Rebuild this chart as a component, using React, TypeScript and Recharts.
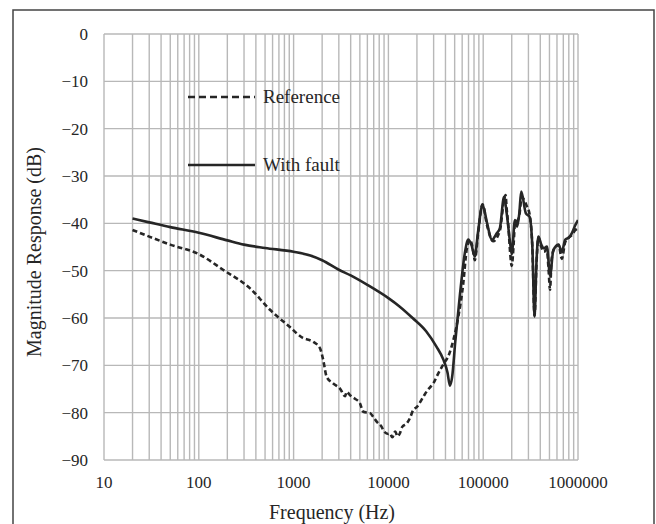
import React from "react";
import { LineChart, Line, XAxis, YAxis, CartesianGrid, Customized } from "recharts";

// frequency axis (log), decade labels + minor grid lines
const decades = [10, 100, 1000, 10000, 100000, 1000000];
const freqTicks = [
  10, 20, 30, 40, 50, 60, 70, 80, 90,
  100, 200, 300, 400, 500, 600, 700, 800, 900,
  1000, 2000, 3000, 4000, 5000, 6000, 7000, 8000, 9000,
  10000, 20000, 30000, 40000, 50000, 60000, 70000, 80000, 90000,
  100000, 200000, 300000, 400000, 500000, 600000, 700000, 800000, 900000,
  1000000,
];
const dbTicks = [-90, -80, -70, -60, -50, -40, -30, -20, -10, 0];

// "With fault" (solid)
const faultFreq = [
  20, 30, 50, 100, 200, 300, 500, 1000, 1500, 2000, 3000, 4000, 6000, 10000,
  13000, 18000, 25000, 32000, 38000, 42000, 44600, 47000, 50800, 56500, 64000,
  69600, 75000, 81600, 88000, 98400, 110000, 123000, 139000, 150000, 166000,
  177000, 192000, 200000, 216000, 228000, 240000, 252000, 282000, 308000,
  330000, 348000, 365000, 382000, 410000, 437000, 470000, 507000, 550000,
  624000, 675000, 732000, 800000, 860000, 930000, 1000000,
];
const faultDb = [
  -39.0, -39.8, -40.8, -42.0, -43.6, -44.5, -45.2, -46.0, -46.8, -47.8, -49.8,
  -51.0, -53.0, -55.8, -57.5, -60.0, -62.8, -66.0, -68.8, -71.5, -74.3, -72.5,
  -64.9, -55.6, -46.3, -43.4, -44.5, -47.0, -42.0, -36.1, -40.0, -43.5, -42.1,
  -41.0, -34.4, -37.9, -44.0, -46.5, -39.3, -40.7, -38.0, -33.3, -37.9, -38.6,
  -45.0, -59.7, -48.0, -42.8, -44.5, -45.3, -44.9, -51.0, -45.6, -44.6, -46.0,
  -43.5, -43.0, -42.1, -40.5, -39.3,
];

// "Reference" (dashed)
const refFreq = [
  20, 30, 50, 100, 180, 350, 560, 900, 1250, 1600, 1900, 2050, 2230, 2600,
  3080, 3500, 3630, 3940, 4400, 5000, 5430, 6400, 6930, 7600, 8490, 9000,
  10000, 10400, 11000, 11800, 12500, 13200, 14000, 15600, 17000, 18300, 20000,
  23400, 26000, 29800, 33000, 37900, 43000, 48400, 54600, 61600, 66900, 72600,
  78000, 81600, 88000, 98400, 110000, 127000, 150000, 166000, 172000, 177000,
  185000, 192000, 200000, 210000, 216000, 228000, 240000, 255000, 270000,
  290000, 308000, 330000, 348000, 365000, 382000, 410000, 437000, 470000,
  490000, 507000, 525000, 550000, 624000, 675000, 732000, 800000, 860000,
  930000, 1000000,
];
const refDb = [
  -41.4, -42.8, -44.5, -46.5, -49.8, -53.8, -58.2, -61.8, -64.2, -65.0, -66.4,
  -68.8, -72.4, -73.8, -74.9, -76.5, -75.6, -76.3, -77.0, -78.0, -79.8, -80.1,
  -80.9, -82.0, -83.0, -84.0, -84.5, -84.4, -85.2, -84.0, -85.0, -84.4, -83.0,
  -82.3, -81.0, -79.4, -78.8, -76.6, -75.2, -73.8, -72.0, -69.8, -68.0, -64.7,
  -59.8, -52.7, -45.6, -43.5, -45.5, -47.8, -42.5, -36.0, -40.5, -43.8, -41.5,
  -35.0, -34.0, -37.0, -41.0, -46.0, -49.0, -44.0, -40.0, -39.5, -38.5, -34.5,
  -35.0, -36.5, -38.0, -45.0, -59.5, -48.5, -43.0, -45.0, -46.0, -45.5, -50.0,
  -54.0, -48.0, -45.8, -44.5, -47.5, -44.0, -43.0, -42.5, -41.5, -41.0,
];

const faultData = faultFreq.map((f, i) => ({ f, db: faultDb[i] }));
const refData = refFreq.map((f, i) => ({ f, db: refDb[i] }));

const serif = "'Liberation Serif', 'Times New Roman', serif";
const ink = "#262626";

const fmtDb = (v: number) => (v < 0 ? "\u2212" + Math.abs(v) : String(v));
const fmtFreq = (v: number) => (decades.includes(v) ? String(v) : "");

// frame, axis titles and in-plot legend
function Extras() {
  return (
    <g>
      <polyline
        points="13,524 13,10 654,10 654,524"
        fill="none"
        stroke="#444"
        strokeWidth={1.5}
      />
      <text
        x={332}
        y={519}
        textAnchor="middle"
        fontFamily={serif}
        fontSize={20}
        fill={ink}
      >
        Frequency (Hz)
      </text>
      <text
        transform="translate(41,252) rotate(-90)"
        textAnchor="middle"
        fontFamily={serif}
        fontSize={20}
        fill={ink}
      >
        Magnitude Response (dB)
      </text>
      <line x1={188} y1={97} x2={255} y2={97} stroke={ink} strokeWidth={2.4} strokeDasharray="7 4" />
      <text x={263} y={103} fontFamily={serif} fontSize={19} fill={ink}>
        Reference
      </text>
      <line x1={188} y1={165} x2={255} y2={165} stroke={ink} strokeWidth={2.4} />
      <text x={263} y={171} fontFamily={serif} fontSize={19} fill={ink}>
        With fault
      </text>
    </g>
  );
}

export default function App() {
  return (
    <div style={{ position: "absolute", left: 0, top: 0, width: 656, height: 524, background: "#fff", overflow: "hidden" }}>
      <LineChart width={656} height={524} margin={{ top: 34, right: 78, bottom: 0, left: 0 }}>
        <CartesianGrid stroke="#b8b8b8" strokeWidth={1.4} />
        <XAxis
          dataKey="f"
          type="number"
          scale="log"
          domain={[10, 1000000]}
          ticks={freqTicks}
          interval={0}
          allowDataOverflow
          tickFormatter={fmtFreq}
          height={64}
          axisLine={false}
          tickLine={false}
          tickSize={0}
          tickMargin={16}
          tick={{ fontFamily: serif, fontSize: 17, fill: ink }}
        />
        <YAxis
          type="number"
          domain={[-90, 0]}
          ticks={dbTicks}
          interval={0}
          tickFormatter={fmtDb}
          width={104}
          axisLine={false}
          tickLine={false}
          tickSize={0}
          tickMargin={16}
          tick={{ fontFamily: serif, fontSize: 17, fill: ink }}
        />
        <Line
          data={refData}
          dataKey="db"
          type="monotone"
          stroke={ink}
          strokeWidth={2.6}
          strokeDasharray="5 3"
          dot={false}
          isAnimationActive={false}
        />
        <Line
          data={faultData}
          dataKey="db"
          type="monotone"
          stroke={ink}
          strokeWidth={2.6}
          dot={false}
          isAnimationActive={false}
        />
        <Customized component={Extras} />
      </LineChart>
    </div>
  );
}
